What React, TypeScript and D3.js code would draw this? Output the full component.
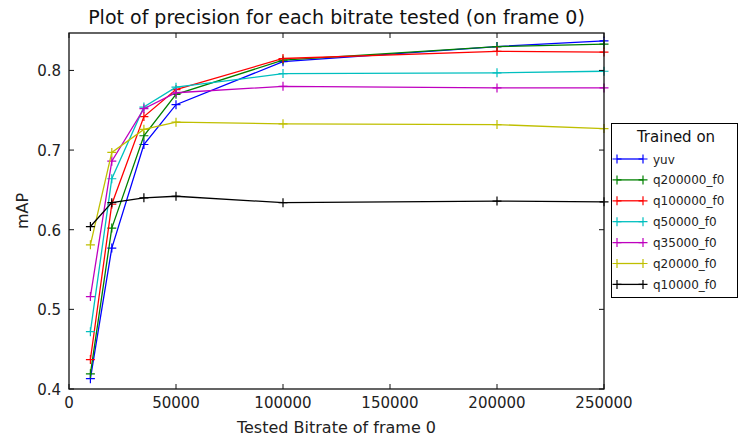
import { useEffect, useRef } from 'react';
import * as d3 from 'd3';

const bitrates = [10000, 20000, 35000, 50000, 100000, 200000, 250000];

const seriesNames = ['yuv', 'q200000_f0', 'q100000_f0', 'q50000_f0', 'q35000_f0', 'q20000_f0', 'q10000_f0'];
const seriesColors = ['#0000ff', '#008000', '#ff0000', '#00bfbf', '#bf00bf', '#bfbf00', '#000000'];

const yuv = [0.413, 0.577, 0.707, 0.757, 0.811, 0.830, 0.837];
const q200000 = [0.419, 0.602, 0.718, 0.770, 0.813, 0.830, 0.833];
const q100000 = [0.437, 0.632, 0.742, 0.776, 0.815, 0.824, 0.823];
const q50000 = [0.472, 0.664, 0.754, 0.779, 0.796, 0.797, 0.799];
const q35000 = [0.516, 0.686, 0.752, 0.772, 0.780, 0.778, 0.778];
const q20000 = [0.581, 0.697, 0.726, 0.735, 0.733, 0.732, 0.727];
const q10000 = [0.604, 0.634, 0.640, 0.642, 0.634, 0.636, 0.635];

const seriesValues = [yuv, q200000, q100000, q50000, q35000, q20000, q10000];

const xTicks = [0, 50000, 100000, 150000, 200000, 250000];
const yTicks = [0.4, 0.5, 0.6, 0.7, 0.8];

export default function App() {
  const svgRef = useRef<SVGSVGElement>(null);

  useEffect(() => {
    if (!svgRef.current) return;
    const width = 739;
    const height = 436;
    const margin = { top: 33, right: 135, bottom: 47, left: 69 };
    const font = 'DejaVu Sans, sans-serif';

    const svg = d3.select(svgRef.current);
    svg.selectAll('*').remove();

    const x = d3.scaleLinear().domain([0, 250000]).range([margin.left, width - margin.right]);
    const y = d3.scaleLinear().domain([0.4, 0.847]).range([height - margin.bottom, margin.top]);

    const x0 = margin.left, x1 = width - margin.right;
    const y0 = height - margin.bottom, y1 = margin.top;

    // lines + markers
    const line = d3.line<number>().x((_, i) => x(bitrates[i])).y(d => y(d));
    const plot = svg.append('g');
    seriesValues.forEach((vals, si) => {
      const color = seriesColors[si];
      plot.append('path')
        .attr('d', line(vals))
        .attr('fill', 'none')
        .attr('stroke', color)
        .attr('stroke-width', 1.3);
      plot.selectAll(null)
        .data(vals)
        .join('path')
        .attr('d', (d, i) => {
          const cx = x(bitrates[i]), cy = y(d), r = 4.5;
          return `M${cx - r},${cy}H${cx + r}M${cx},${cy - r}V${cy + r}`;
        })
        .attr('stroke', color)
        .attr('stroke-width', 1.2);
    });

    // frame
    svg.append('rect')
      .attr('x', x0).attr('y', y1)
      .attr('width', x1 - x0).attr('height', y0 - y1)
      .attr('fill', 'none').attr('stroke', '#111').attr('stroke-width', 1.3);

    // ticks (inside, on all four sides)
    const tl = 5;
    const ticks = svg.append('g').attr('stroke', '#111').attr('stroke-width', 1);
    xTicks.forEach(t => {
      ticks.append('line').attr('x1', x(t)).attr('x2', x(t)).attr('y1', y0).attr('y2', y0 - tl);
      ticks.append('line').attr('x1', x(t)).attr('x2', x(t)).attr('y1', y1).attr('y2', y1 + tl);
    });
    yTicks.forEach(t => {
      ticks.append('line').attr('x1', x0).attr('x2', x0 + tl).attr('y1', y(t)).attr('y2', y(t));
      ticks.append('line').attr('x1', x1).attr('x2', x1 - tl).attr('y1', y(t)).attr('y2', y(t));
    });

    svg.append('g').selectAll('text')
      .data(xTicks)
      .join('text')
      .attr('x', d => x(d))
      .attr('y', 408)
      .attr('text-anchor', 'middle')
      .style('font-family', font).style('font-size', '15px').style('fill', '#222')
      .text(d => String(d));

    svg.append('g').selectAll('text')
      .data(yTicks)
      .join('text')
      .attr('x', x0 - 8)
      .attr('y', d => y(d) + 6)
      .attr('text-anchor', 'end')
      .style('font-family', font).style('font-size', '15px').style('fill', '#222')
      .text(d => d.toFixed(1));

    svg.append('text')
      .attr('x', (x0 + x1) / 2).attr('y', 24)
      .attr('text-anchor', 'middle')
      .style('font-family', font).style('font-size', '19px').style('fill', '#111')
      .text('Plot of precision for each bitrate tested (on frame 0)');

    svg.append('text')
      .attr('x', (x0 + x1) / 2).attr('y', 433)
      .attr('text-anchor', 'middle')
      .style('font-family', font).style('font-size', '16px').style('fill', '#222')
      .text('Tested Bitrate of frame 0');

    svg.append('text')
      .attr('transform', `translate(28,${(y0 + y1) / 2}) rotate(-90)`)
      .attr('text-anchor', 'middle')
      .style('font-family', font).style('font-size', '16px').style('fill', '#222')
      .text('mAP');

    // legend
    const lg = svg.append('g');
    lg.append('rect')
      .attr('x', 611.5).attr('y', 123.5)
      .attr('width', 126).attr('height', 174)
      .attr('fill', '#fff').attr('stroke', '#000').attr('stroke-width', 1);
    lg.append('text')
      .attr('x', 676).attr('y', 142)
      .attr('text-anchor', 'middle')
      .style('font-family', font).style('font-size', '15px').style('fill', '#111')
      .text('Trained on');
    seriesNames.forEach((name, i) => {
      const ly = 159 + i * 20.9;
      lg.append('line').attr('x1', 617).attr('x2', 643).attr('y1', ly).attr('y2', ly)
        .attr('stroke', seriesColors[i]).attr('stroke-width', 1.3);
      [617, 643].forEach(px => {
        lg.append('path')
          .attr('d', `M${px - 4.5},${ly}H${px + 4.5}M${px},${ly - 4.5}V${ly + 4.5}`)
          .attr('stroke', seriesColors[i]).attr('stroke-width', 1.2);
      });
      lg.append('text')
        .attr('x', 653).attr('y', ly + 4.5)
        .style('font-family', font).style('font-size', '12px').style('fill', '#222')
        .text(name);
    });
  }, []);

  return (
    <svg ref={svgRef} width={739} height={436}
      style={{ position: 'absolute', left: 0, top: 0, background: '#fff' }} />
  );
}
